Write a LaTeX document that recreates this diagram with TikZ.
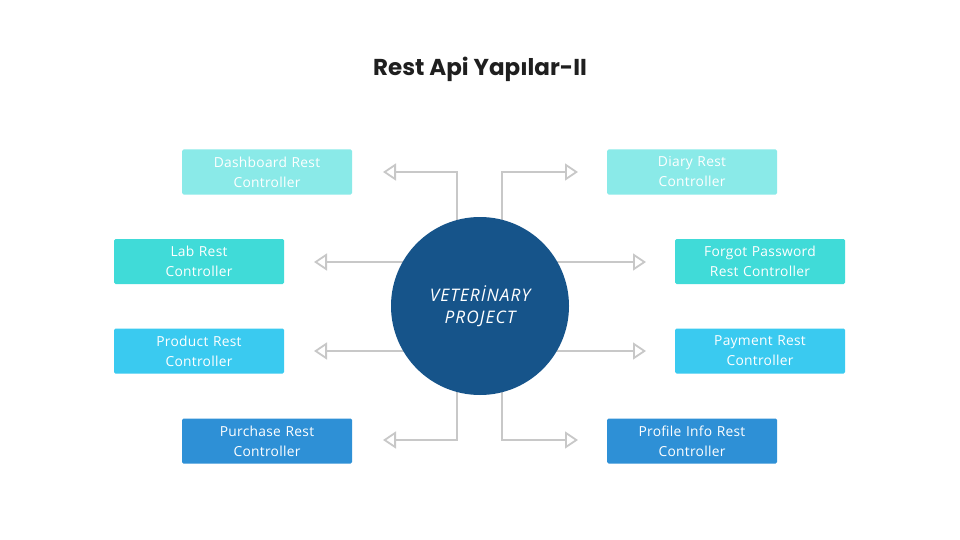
\documentclass[tikz,border=0pt]{standalone}
\usepackage{fontspec}
\setmainfont{Open Sans}
\newfontfamily\titlefont{Poppins}
\usetikzlibrary{arrows.meta,backgrounds}
\definecolor{cA}{HTML}{8AEAE8}
\definecolor{cB}{HTML}{40DBD8}
\definecolor{cC}{HTML}{3ACAF0}
\definecolor{cD}{HTML}{2E90D6}
\definecolor{circ}{HTML}{16548A}
\definecolor{conn}{HTML}{C8C8C8}
\begin{document}
\begin{tikzpicture}[x=1pt,y=-1pt,
  box/.style={rounded corners=1.5pt,minimum width=170pt,minimum height=45pt,inner sep=0pt,
    text=white,font=\fontsize{13.8}{20}\selectfont\addfontfeature{LetterSpace=2},align=center,text width=165pt},
  link/.style={draw=conn,line width=1.8pt,-{Triangle[open,length=13pt,width=17pt,line width=1.8pt]}}]
\useasboundingbox (0,0) rectangle (960,540);
\node[font=\titlefont\bfseries\fontsize{23}{26}\selectfont,text=black!88] (title) at (480,69) {Rest Api Yapılar-II};
\node[box,fill=cA] (dash) at (267,172) {Dashboard Rest\\Controller};
\node[box,fill=cA] (diary) at (692,172) {Diary Rest\\Controller};
\node[box,fill=cB] (lab) at (199,261.5) {Lab Rest\\Controller};
\node[box,fill=cB] (forgot) at (760,261.5) {Forgot Password\\Rest Controller};
\node[box,fill=cC] (prod) at (199,351) {Product Rest\\Controller};
\node[box,fill=cC] (pay) at (760,351) {Payment Rest\\Controller};
\node[box,fill=cD] (purch) at (267,441) {Purchase Rest\\Controller};
\node[box,fill=cD] (prof) at (692,441) {Profile Info Rest\\Controller};
\node[circle,fill=circ,minimum size=178pt,inner sep=0pt,text=white,align=center,
  font=\itshape\fontsize{17.3}{22}\selectfont\addfontfeature{LetterSpace=6}] (c) at (480,306) {\raisebox{-2pt}{VETERİNARY}\\\raisebox{-2pt}{PROJECT}};
\coordinate (t1) at (383,172);
\coordinate (t2) at (578,172);
\coordinate (t3) at (314,262);
\coordinate (t4) at (646,262);
\coordinate (t5) at (314,351);
\coordinate (t6) at (646,351);
\coordinate (t7) at (383,440);
\coordinate (t8) at (578,440);
\begin{scope}[on background layer]
\fill[white] (0,0) rectangle (960,540);
\draw[link] ([xshift=-23pt]c.center) |- (t1);
\draw[link] ([xshift=22pt]c.center) |- (t2);
\draw[link] (c.center |- t3) -- (t3);
\draw[link] (c.center |- t4) -- (t4);
\draw[link] (c.center |- t5) -- (t5);
\draw[link] (c.center |- t6) -- (t6);
\draw[link] ([xshift=-23pt]c.center) |- (t7);
\draw[link] ([xshift=22pt]c.center) |- (t8);
\end{scope}
\end{tikzpicture}
\end{document}
